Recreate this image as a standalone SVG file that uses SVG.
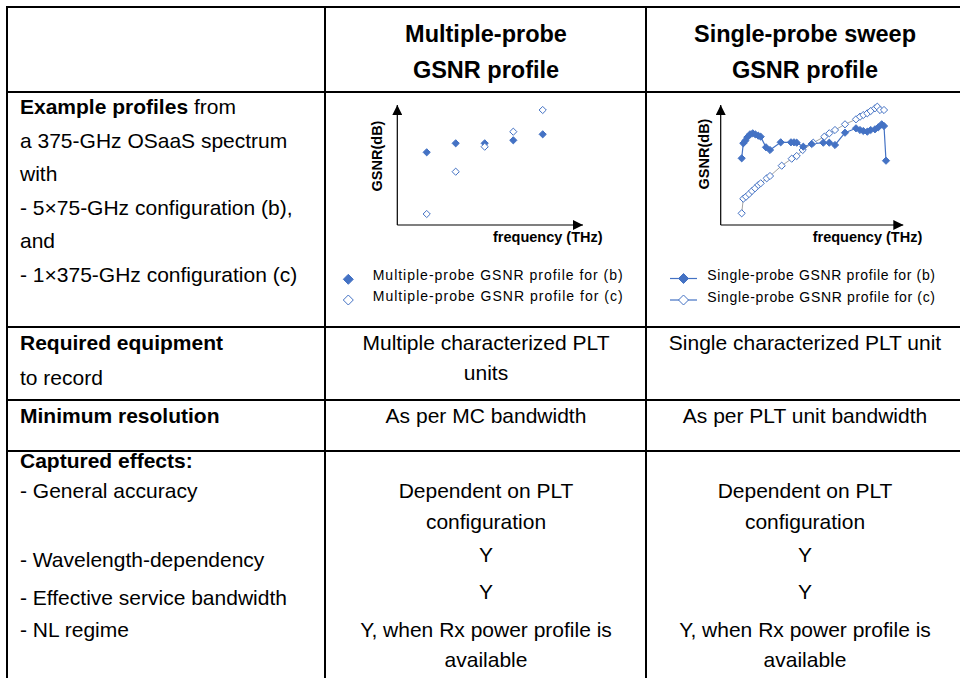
<svg xmlns="http://www.w3.org/2000/svg" xmlns:xlink="http://www.w3.org/1999/xlink" width="960" height="678" viewBox="0 0 960 678">
  <style>
    .grid { stroke: #000; stroke-width: 2; fill: none; }
    .t { font-family: "Liberation Sans", Arial, sans-serif; font-size: 21px; fill: #000; }
    .c { text-anchor: middle; }
    .b { font-weight: bold; }
    .h { font-family: "Liberation Sans", Arial, sans-serif; font-size: 23.5px; font-weight: bold; text-anchor: middle; fill: #000; }
    .ax { stroke: #000; stroke-width: 1.2; fill: none; }
    .axl { font-family: "Liberation Sans", Arial, sans-serif; font-size: 14.5px; font-weight: bold; fill: #000; }
    .lg { font-family: "Liberation Sans", Arial, sans-serif; font-size: 14px; fill: #000; }
    .fd { fill: #4472C4; stroke: #4472C4; stroke-width: 1; }
    .od { fill: #fff; stroke: #4472C4; stroke-width: 1; }
    .ln { fill: none; stroke: #4472C4; stroke-width: 1.2; }
    .lg2 { fill: none; stroke: #8c8c8c; stroke-width: 0.8; }
  </style>
  <defs>
    <path id="dm" d="M0,-3.6 L3.6,0 L0,3.6 L-3.6,0 Z"/>
    <path id="dl" d="M0,-5 L5,0 L0,5 L-5,0 Z"/>
    <marker id="arr" viewBox="0 0 10 10" refX="10" refY="5" markerWidth="10" markerHeight="10" markerUnits="userSpaceOnUse" orient="auto">
      <path d="M0,0 L10,5 L0,10 Z" fill="#000"/>
    </marker>
  </defs>

  <rect width="960" height="678" fill="#fff"/>

  <!-- table rules -->
  <g id="table-grid" class="grid">
    <line x1="6" y1="7" x2="960" y2="7"/>
    <line x1="7" y1="6" x2="7" y2="678"/>
    <line x1="325" y1="7" x2="325" y2="678"/>
    <line x1="646" y1="7" x2="646" y2="678"/>
    <line x1="7" y1="92" x2="960" y2="92"/>
    <line x1="7" y1="327" x2="960" y2="327"/>
    <line x1="7" y1="400" x2="960" y2="400"/>
    <line x1="7" y1="451" x2="960" y2="451"/>
  </g>

  <!-- column headers -->
  <g id="head-multi">
    <text class="h" x="486" y="42">Multiple-probe</text>
    <text class="h" x="486" y="78">GSNR profile</text>
  </g>
  <g id="head-single">
    <text class="h" x="805" y="42">Single-probe sweep</text>
    <text class="h" x="805" y="78">GSNR profile</text>
  </g>

  <!-- row: example profiles -->
  <g id="row-examples" class="t">
    <text x="20" y="114"><tspan class="b">Example profiles</tspan> from</text>
    <text x="20" y="147.5">a 375-GHz OSaaS spectrum</text>
    <text x="20" y="181">with</text>
    <text x="20" y="214.5">- 5×75-GHz configuration (b),</text>
    <text x="20" y="248">and</text>
    <text x="20" y="281.5">- 1×375-GHz configuration (c)</text>
  </g>

  <!-- multiple-probe chart -->
  <g id="chart-multi">
    <line class="ax" x1="397.3" y1="225" x2="397.3" y2="105" marker-end="url(#arr)"/>
    <line class="ax" x1="397.3" y1="225" x2="583" y2="225" marker-end="url(#arr)"/>
    <text class="axl c" transform="translate(382,156) rotate(-90)">GSNR(dB)</text>
    <text class="axl" x="493" y="241.5">frequency (THz)</text>
    <g class="fd">
      <use xlink:href="#dm" x="426.7" y="152.3"/>
      <use xlink:href="#dm" x="455.7" y="143.3"/>
      <use xlink:href="#dm" x="484.7" y="143.3"/>
      <use xlink:href="#dm" x="513.3" y="140.3"/>
      <use xlink:href="#dm" x="542.7" y="134.3"/>
    </g>
    <g class="od">
      <use xlink:href="#dm" x="426.7" y="214"/>
      <use xlink:href="#dm" x="455.7" y="171.7"/>
      <use xlink:href="#dm" x="484.7" y="146.7"/>
      <use xlink:href="#dm" x="513.3" y="131.7"/>
      <use xlink:href="#dm" x="542.7" y="110"/>
    </g>
    <use class="fd" xlink:href="#dl" x="348.3" y="279.3"/>
    <use class="od" xlink:href="#dl" x="348.3" y="300"/>
    <text class="lg" x="372.7" y="280" textLength="250" lengthAdjust="spacing">Multiple-probe GSNR profile for (b)</text>
    <text class="lg" x="372.7" y="301" textLength="250" lengthAdjust="spacing">Multiple-probe GSNR profile for (c)</text>
  </g>

  <!-- single-probe sweep chart -->
  <g id="chart-single">
    <line class="ax" x1="720.7" y1="225" x2="720.7" y2="105" marker-end="url(#arr)"/>
    <line class="ax" x1="720.7" y1="225" x2="903.3" y2="225" marker-end="url(#arr)"/>
    <text class="axl c" transform="translate(708.5,154) rotate(-90)">GSNR(dB)</text>
    <text class="axl" x="812.7" y="241.5">frequency (THz)</text>
    <polyline class="lg2" points="741.7,213.3 743.3,198.7 746,196.7 749,194 752,191 755,188.3 758.3,185 760.7,183.3 766.7,178.3 770,176 781.7,165.7 791.7,158.7 796.7,156 802.7,150 813.3,142.7 824.3,136.7 829.3,133.3 835,130 845,124.3 856,119.3 860,116.7 863.3,115 867.3,113.3 870.7,111 875,108.3 877.3,106.7 880,110 884,110"/>
    <polyline class="ln" points="741.7,158.3 743.3,143.3 745.3,140.7 747.3,137.3 750,134.3 752.7,133.3 755.3,134.3 758.3,135.7 760.7,136.7 766,147.3 770,150 780.7,142.3 791,142.3 794,142.3 796.7,142.7 803.3,146.7 811.7,144 823.3,142.7 829.3,142.7 835,145 845,132.7 856,128.3 860,130 863.3,131 867.3,131.7 870.7,130 875,129.3 878.3,127.3 881.7,124.3 884,126 886,160.7"/>
    <g class="od">
      <use xlink:href="#dm" x="741.7" y="213.3"/>
      <use xlink:href="#dm" x="743.3" y="198.7"/>
      <use xlink:href="#dm" x="746" y="196.7"/>
      <use xlink:href="#dm" x="749" y="194"/>
      <use xlink:href="#dm" x="752" y="191"/>
      <use xlink:href="#dm" x="755" y="188.3"/>
      <use xlink:href="#dm" x="758.3" y="185"/>
      <use xlink:href="#dm" x="760.7" y="183.3"/>
      <use xlink:href="#dm" x="766.7" y="178.3"/>
      <use xlink:href="#dm" x="770" y="176"/>
      <use xlink:href="#dm" x="781.7" y="165.7"/>
      <use xlink:href="#dm" x="791.7" y="158.7"/>
      <use xlink:href="#dm" x="796.7" y="156"/>
      <use xlink:href="#dm" x="802.7" y="150"/>
      <use xlink:href="#dm" x="813.3" y="142.7"/>
      <use xlink:href="#dm" x="824.3" y="136.7"/>
      <use xlink:href="#dm" x="829.3" y="133.3"/>
      <use xlink:href="#dm" x="835" y="130"/>
      <use xlink:href="#dm" x="845" y="124.3"/>
      <use xlink:href="#dm" x="856" y="119.3"/>
      <use xlink:href="#dm" x="860" y="116.7"/>
      <use xlink:href="#dm" x="863.3" y="115"/>
      <use xlink:href="#dm" x="867.3" y="113.3"/>
      <use xlink:href="#dm" x="870.7" y="111"/>
      <use xlink:href="#dm" x="875" y="108.3"/>
      <use xlink:href="#dm" x="877.3" y="106.7"/>
      <use xlink:href="#dm" x="880" y="110"/>
      <use xlink:href="#dm" x="884" y="110"/>
    </g>
    <g class="fd">
      <use xlink:href="#dm" x="741.7" y="158.3"/>
      <use xlink:href="#dm" x="743.3" y="143.3"/>
      <use xlink:href="#dm" x="745.3" y="140.7"/>
      <use xlink:href="#dm" x="747.3" y="137.3"/>
      <use xlink:href="#dm" x="750" y="134.3"/>
      <use xlink:href="#dm" x="752.7" y="133.3"/>
      <use xlink:href="#dm" x="755.3" y="134.3"/>
      <use xlink:href="#dm" x="758.3" y="135.7"/>
      <use xlink:href="#dm" x="760.7" y="136.7"/>
      <use xlink:href="#dm" x="766" y="147.3"/>
      <use xlink:href="#dm" x="770" y="150"/>
      <use xlink:href="#dm" x="780.7" y="142.3"/>
      <use xlink:href="#dm" x="791" y="142.3"/>
      <use xlink:href="#dm" x="794" y="142.3"/>
      <use xlink:href="#dm" x="796.7" y="142.7"/>
      <use xlink:href="#dm" x="803.3" y="146.7"/>
      <use xlink:href="#dm" x="811.7" y="144"/>
      <use xlink:href="#dm" x="823.3" y="142.7"/>
      <use xlink:href="#dm" x="829.3" y="142.7"/>
      <use xlink:href="#dm" x="835" y="145"/>
      <use xlink:href="#dm" x="845" y="132.7"/>
      <use xlink:href="#dm" x="856" y="128.3"/>
      <use xlink:href="#dm" x="860" y="130"/>
      <use xlink:href="#dm" x="863.3" y="131"/>
      <use xlink:href="#dm" x="867.3" y="131.7"/>
      <use xlink:href="#dm" x="870.7" y="130"/>
      <use xlink:href="#dm" x="875" y="129.3"/>
      <use xlink:href="#dm" x="878.3" y="127.3"/>
      <use xlink:href="#dm" x="881.7" y="124.3"/>
      <use xlink:href="#dm" x="884" y="126"/>
      <use xlink:href="#dm" x="886" y="160.7"/>
    </g>
    <line class="ln" x1="670" y1="278.5" x2="697" y2="278.5"/>
    <use class="fd" xlink:href="#dl" x="683.5" y="278.5"/>
    <line class="ln" x1="670" y1="300" x2="697" y2="300"/>
    <use class="od" xlink:href="#dl" x="683.5" y="300"/>
    <text class="lg" x="707.3" y="280" textLength="227.7" lengthAdjust="spacing">Single-probe GSNR profile for (b)</text>
    <text class="lg" x="707.3" y="301.5" textLength="227.7" lengthAdjust="spacing">Single-probe GSNR profile for (c)</text>
  </g>

  <!-- row: required equipment -->
  <g id="row-equipment" class="t">
    <text x="20" y="350" class="b">Required equipment</text>
    <text x="20" y="385">to record</text>
    <text x="486" y="350" class="c">Multiple characterized PLT</text>
    <text x="486" y="380" class="c">units</text>
    <text x="805" y="350" class="c">Single characterized PLT unit</text>
  </g>

  <!-- row: minimum resolution -->
  <g id="row-resolution" class="t">
    <text x="20" y="423" class="b">Minimum resolution</text>
    <text x="486" y="423" class="c">As per MC bandwidth</text>
    <text x="805" y="423" class="c">As per PLT unit bandwidth</text>
  </g>

  <!-- row: captured effects -->
  <g id="row-effects" class="t">
    <text x="20" y="468" class="b">Captured effects:</text>
    <text x="20" y="498">- General accuracy</text>
    <text x="20" y="567">- Wavelength-dependency</text>
    <text x="20" y="605">- Effective service bandwidth</text>
    <text x="20" y="637">- NL regime</text>
    <text x="486" y="498" class="c">Dependent on PLT</text>
    <text x="486" y="529" class="c">configuration</text>
    <text x="486" y="562" class="c">Y</text>
    <text x="486" y="599" class="c">Y</text>
    <text x="486" y="637" class="c">Y, when Rx power profile is</text>
    <text x="486" y="667" class="c">available</text>
    <text x="805" y="498" class="c">Dependent on PLT</text>
    <text x="805" y="529" class="c">configuration</text>
    <text x="805" y="562" class="c">Y</text>
    <text x="805" y="599" class="c">Y</text>
    <text x="805" y="637" class="c">Y, when Rx power profile is</text>
    <text x="805" y="667" class="c">available</text>
  </g>
</svg>
